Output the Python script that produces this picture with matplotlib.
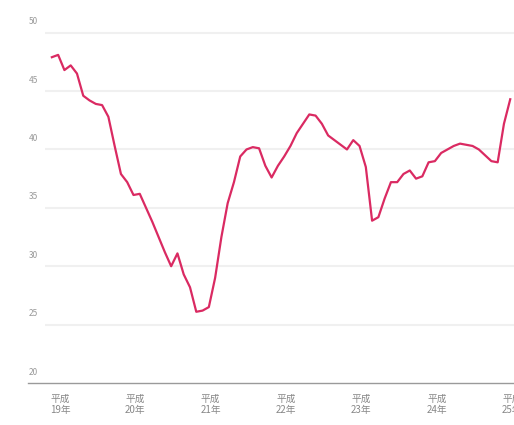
import matplotlib.pyplot as plt

plt.rcParams['font.family'] = ['Noto Sans CJK JP', 'DejaVu Sans']

# monthly values
values = [47.9, 48.1, 46.8, 47.2, 46.5, 44.6, 44.2, 43.9, 43.8, 42.8,
          40.3, 37.9, 37.2, 36.1, 36.2, 35.0, 33.8, 32.5, 31.2, 30.0,
          31.1, 29.3, 28.2, 26.1, 26.2, 26.5, 29.0, 32.5, 35.4, 37.2,
          39.4, 40.0, 40.2, 40.1, 38.6, 37.6, 38.6, 39.4, 40.3, 41.4,
          42.2, 43.0, 42.9, 42.2, 41.2, 40.8, 40.4, 40.0, 40.8, 40.3,
          38.5, 33.9, 34.2, 35.8, 37.2, 37.2, 37.9, 38.2, 37.5, 37.7,
          38.9, 39.0, 39.7, 40.0, 40.3, 40.5, 40.4, 40.3, 40.0, 39.5,
          39.0, 38.9, 42.2, 44.3]
months = list(range(len(values)))

year_labels = ["平成\n19年", "平成\n20年", "平成\n21年", "平成\n22年",
               "平成\n23年", "平成\n24年", "平成\n25年"]
year_pos = [1.3 + 12 * i for i in range(len(year_labels))]
y_ticks = [20, 25, 30, 35, 40, 45, 50]

fig = plt.figure(figsize=(5.14, 4.25), dpi=100)
ax = fig.add_axes([28 / 514, 42 / 425, 486 / 514, 383 / 425])

xmin, xmax = -3.8, 73.6
ax.set_xlim(xmin, xmax)
ax.set_ylim(20, 52.8)

for v in y_ticks[1:]:
    ax.hlines(v, -1.1, xmax, color='#f0f0f0', lw=1.5, zorder=1)
for v in y_ticks:
    ax.text(-3.0, v + 0.55, str(v), ha='center', va='bottom',
            fontsize=6, color='#999999')

ax.plot(months, values, color='#da2a62', lw=1.6, zorder=3,
        solid_joinstyle='round')

for s in ['top', 'right', 'left']:
    ax.spines[s].set_visible(False)
ax.spines['bottom'].set_color('#9a9a9a')
ax.spines['bottom'].set_linewidth(1.0)

ax.set_yticks([])
ax.set_xticks(year_pos)
ax.set_xticklabels(year_labels, fontsize=7, color='#888888', linespacing=1.1)
ax.tick_params(axis='x', length=0, pad=8)

fig.savefig('out.png', dpi=100)
